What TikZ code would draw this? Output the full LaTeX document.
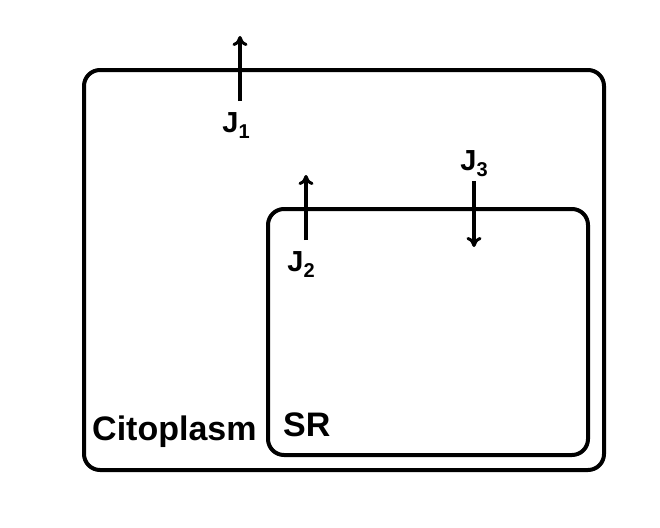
\documentclass[tikz,border=0pt]{standalone}
\usepackage{fontspec}
\setmainfont{Liberation Sans}
\usepackage{tikz}
\usetikzlibrary{positioning, arrows.meta}

\newcommand{\jsub}[1]{J\raisebox{-6pt}{\fontsize{20}{20}\selectfont #1}}

\tikzset{
  cell/.style={draw, line width=4pt, rounded corners=16pt, inner sep=0pt},
  flux/.style={line width=3.4pt, -{To[length=10pt,width=15pt,line width=3pt]}},
  jlabel/.style={inner sep=0pt, font=\bfseries\fontsize{29}{29}\selectfont},
  region/.style={inner sep=0pt, anchor=base west, font=\bfseries\fontsize{34}{34}\selectfont}
}

\begin{document}
\begin{tikzpicture}[x=1pt,y=-1pt]
  \useasboundingbox (0,0) rectangle (660,527);
  \node[cell, minimum width=520pt, minimum height=400pt] (cyto) at (344,270) {};
  \node[cell, minimum width=320pt, minimum height=246pt] (sr) at (428,332) {};
  \node[region] (cytolab) at (92,440) {Citoplasm};
  \node[region] (srlab) at (283,436) {SR};
  \coordinate (j1a) at (240,101);
  \coordinate (j1b) at (240,36);
  \coordinate (j2a) at (306,240);
  \coordinate (j2b) at (306,175);
  \coordinate (j3a) at (474,181);
  \coordinate (j3b) at (474,247);
  \draw[flux] (j1a) -- (j1b);
  \draw[flux] (j2a) -- (j2b);
  \draw[flux] (j3a) -- (j3b);
  \node[jlabel] (j1) [below=11pt of j1a, xshift=-4pt] {\jsub{1}};
  \node[jlabel] (j2) [below=11pt of j2a, xshift=-5pt] {\jsub{2}};
  \node[jlabel] (j3) [above=4pt of j3a] {\jsub{3}};
\end{tikzpicture}
\end{document}
